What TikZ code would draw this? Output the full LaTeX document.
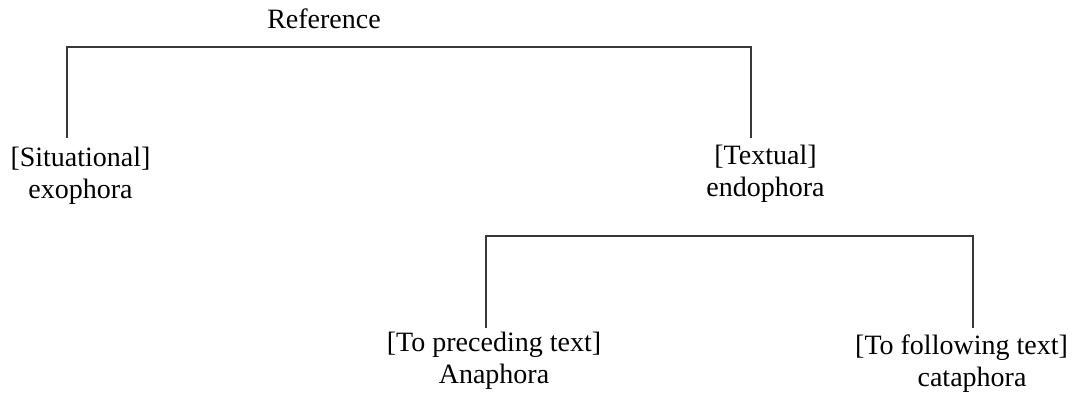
\documentclass[tikz,border=0pt]{standalone}
\usepackage{fontspec}
\setmainfont{Liberation Serif}
\begin{document}
\begin{tikzpicture}[x=1pt,y=-1pt,
  lbl/.style={font=\fontsize{28}{32}\selectfont, align=center, inner sep=0pt, text=black},
  conn/.style={line width=1.7pt, draw=black!78}]
\useasboundingbox (0,0) rectangle (1075,398);
\node[lbl, anchor=base] (ref) at (324,29) {Reference};
\node[lbl, anchor=north] (sit) at (80.5,147) {[Situational]\\exophora};
\node[lbl, anchor=north] (tex) at (765.5,145) {[Textual]\\endophora};
\node[lbl, anchor=north] (ana) at (494,332) {[To preceding text]\\Anaphora};
\node[lbl, anchor=north] (cat) at (961.5,335) {[To following text]\\\hspace*{21pt}cataphora};
\coordinate (b1) at (67,47);
\coordinate (b2) at (751,47);
\coordinate (s1) at (67,138);
\coordinate (t1) at (751,138);
\coordinate (c1) at (486,236);
\coordinate (c2) at (973,236);
\coordinate (a1) at (486,328);
\coordinate (f1) at (973,328);
\draw[conn] (s1) -- (b1) -- (b2) -- (t1);
\draw[conn] (a1) -- (c1) -- (c2) -- (f1);
\end{tikzpicture}
\end{document}
